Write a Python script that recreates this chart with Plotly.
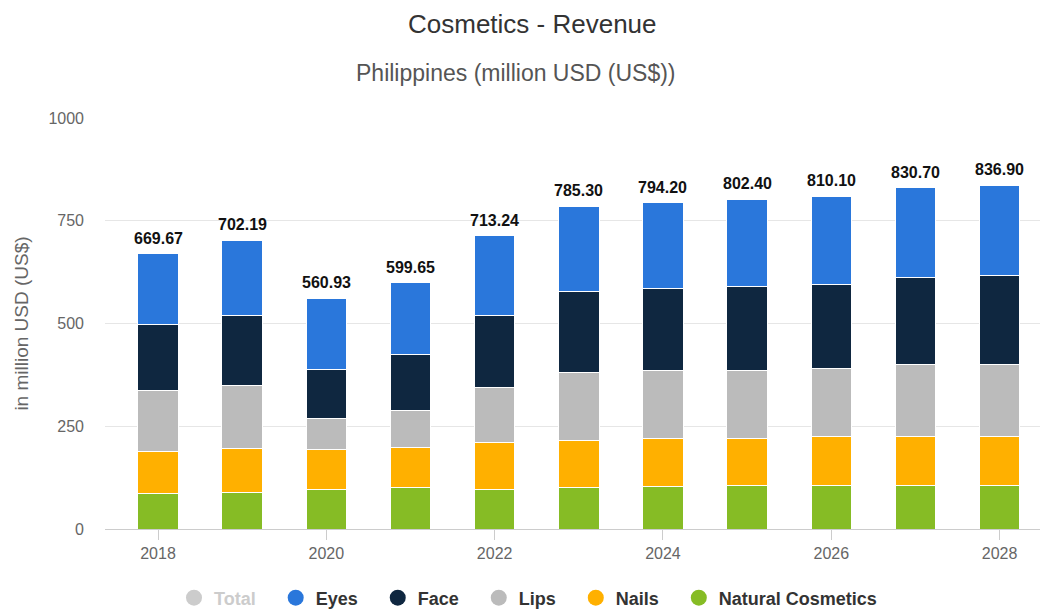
import plotly.graph_objects as go

years = [2018, 2019, 2020, 2021, 2022, 2023, 2024, 2025, 2026, 2027, 2028]
totals = [669.67, 702.19, 560.93, 599.65, 713.24, 785.30, 794.20, 802.40, 810.10, 830.70, 836.90]
natural = [87, 90, 97, 101, 97, 101, 103, 105, 105, 105, 105]
nails = [101, 105, 97, 97, 113, 115, 118, 116, 120, 120, 120]
lips = [148, 155, 76, 91, 134, 166, 165, 165, 165, 176, 176]
face = [162, 169, 119, 136, 175, 197, 198, 204, 204, 212, 215]
eyes = [round(t - a - b - c - d, 2) for t, a, b, c, d in zip(totals, natural, nails, lips, face)]

series = [
    ("Natural Cosmetics", natural, "#86bc25"),
    ("Nails", nails, "#ffb000"),
    ("Lips", lips, "#bbbbbb"),
    ("Face", face, "#0f2740"),
    ("Eyes", eyes, "#2a77db"),
]

FONT = "Liberation Sans, Arial, sans-serif"
fig = go.Figure()

for name, vals, col in series:
    fig.add_trace(go.Bar(
        x=years, y=vals, name=name, marker=dict(color=col, line=dict(color="white", width=1)),
        width=0.48, showlegend=False,
        hovertemplate=name + ": %{y}<extra></extra>",
    ))

# legend entries (circles)
PAD = "\u00a0" * 3
legend_items = [("<span style='color:#cccccc'>Total</span>" + PAD, "#cccccc")] + [
    (n + PAD, c) for n, _, c in [series[4], series[3], series[2], series[1]]
] + [(series[0][0], series[0][2])]
for name, col in legend_items:
    fig.add_trace(go.Scatter(
        x=[None], y=[None], mode="markers", name=name,
        marker=dict(symbol="circle", size=16, color=col),
    ))

PLOT_TOP, PLOT_BOT = 118, 529
def py(p):
    return (PLOT_BOT - p) / (PLOT_BOT - PLOT_TOP)

def px(p):
    return (p - 105) / (1040 - 105)

annotations = [
    dict(x=yr, y=tot, xref="x", yref="y", text=f"{tot:.2f}", showarrow=False,
         yanchor="bottom", yshift=5, font=dict(family=FONT, size=16, color="#111111", weight="bold"))
    for yr, tot in zip(years, totals)
]
annotations += [
    dict(text="Cosmetics - Revenue", xref="paper", yref="paper", x=px(532), xanchor="center",
         y=py(24), yanchor="middle", showarrow=False,
         font=dict(family=FONT, size=26, color="#333333")),
    dict(text="Philippines (million USD (US$))", xref="paper", yref="paper", x=px(516), xanchor="center",
         y=py(73), yanchor="middle", showarrow=False,
         font=dict(family=FONT, size=23, color="#555555")),
]

fig.update_layout(
    width=1043, height=615,
    margin=dict(l=105, r=3, t=118, b=86, autoexpand=False),
    barmode="stack",
    plot_bgcolor="white", paper_bgcolor="white",
    font=dict(family=FONT, color="#666666", size=16),
    showlegend=True,
    legend=dict(
        orientation="h", traceorder="normal", xref="paper", x=px(528), xanchor="center",
        yref="paper", y=py(598), yanchor="middle",
        font=dict(family=FONT, size=18, color="#333333", weight="bold"),
        itemclick=False, itemdoubleclick=False,
    ),
    xaxis=dict(
        range=[2017.37, 2028.48], tickmode="array", tickvals=[2018, 2020, 2022, 2024, 2026, 2028],
        ticks="outside", ticklen=10, tickcolor="#cccccc", showgrid=False,
        showline=True, linecolor="#cccccc", linewidth=1, zeroline=False,
        tickfont=dict(size=16, color="#666666"),
    ),
    yaxis=dict(
        range=[0, 1000], tickvals=[0, 250, 500, 750, 1000], showgrid=True, gridcolor="#e6e6e6",
        zeroline=False, showline=False, ticks="", ticklabelstandoff=20,
        tickfont=dict(size=16, color="#666666"),
        title=dict(text="in million USD (US$)", font=dict(size=19, color="#666666"), standoff=14),
    ),
    annotations=annotations,
)

fig.write_html("out.html")
